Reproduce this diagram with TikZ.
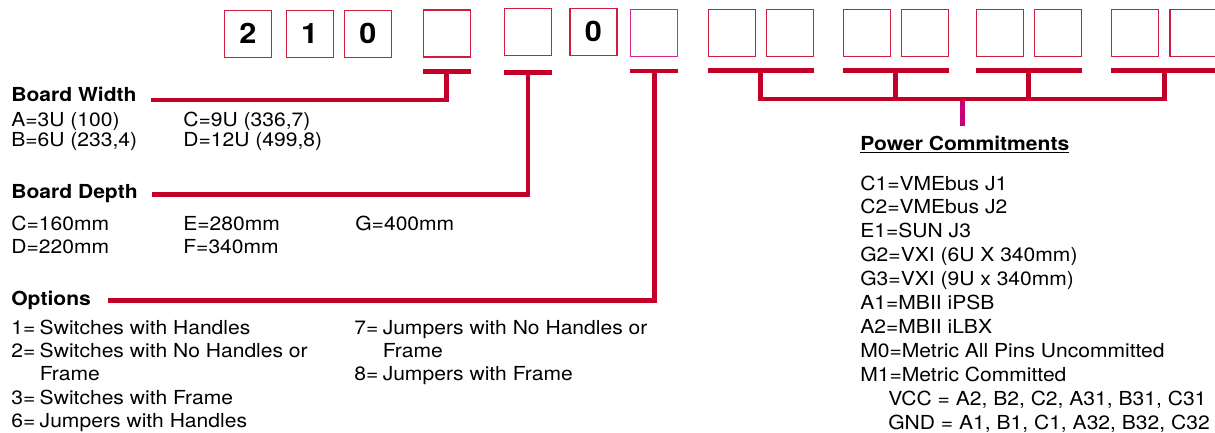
\documentclass[tikz,border=0pt]{standalone}
\usepackage{fontspec}
\setmainfont{TeX Gyre Heros}[FakeStretch=1.09]
\definecolor{leadred}{RGB}{196, 0, 40}
\definecolor{cellred}{RGB}{205, 30, 60}
\definecolor{cellpink}{RGB}{212, 40, 140}
\definecolor{powermagenta}{RGB}{200, 0, 120}
\usetikzlibrary{calc}
\tikzset{
    codebox/.style={rectangle, draw=cellred, line width=0.6pt, minimum size=0.94cm,
                    inner sep=0pt, font=\fontsize{16}{18}\selectfont\bfseries},
    headlabel/.style={anchor=base west, inner sep=0pt, font=\fontsize{11}{13}\selectfont\bfseries},
    listlabel/.style={anchor=base west, inner sep=0pt, font=\fontsize{11}{13.3}\selectfont},
    barline/.style={line width=2.7pt, leadred},
    leadline/.style={line width=2.7pt, leadred},
    powerline/.style={line width=2.8pt, powermagenta},
}

\begin{document}
\begin{tikzpicture}[x=0.02cm, y=-0.02cm]
    \useasboundingbox (0,0) rectangle (1215,433);

    % part number cells
    \node[codebox] (cell1) at (248,33.7) {2};
    \node[codebox] (cell2) at (309.7,33.7) {1};
    \node[codebox] (cell3) at (368,33.7) {0};
    \node[codebox] (cell4) at (446.7,33.5) {};
    \node[codebox] (cell5) at (528,32) {};
    \node[codebox] (cell6) at (593.5,31.7) {0};
    \node[codebox, draw=cellpink] (cell7) at (654.3,33) {};
    \node[codebox] (cell8) at (731.7,33) {};
    \node[codebox] (cell9) at (789.7,33) {};
    \node[codebox] (cell10) at (866.7,33) {};
    \node[codebox] (cell11) at (925,33) {};
    \node[codebox] (cell12) at (999.7,33) {};
    \node[codebox] (cell13) at (1057.8,33) {};
    \node[codebox] (cell14) at (1135,33) {};
    \node[codebox] (cell15) at (1193.5,33) {};

    % headings
    \node[headlabel] (widthhead) at (11,101.7) {Board Width};
    \node[headlabel] (depthhead) at (11,198.3) {Board Depth};
    \node[headlabel] (opthead) at (11,305) {Options};
    \node[headlabel] (powerhead) at (860,150) {\underline{Power Commitments}};

    % value lists
    \node[listlabel, font=\fontsize{11}{11.1}\selectfont] (widthA) at (11,126.7)
        {\begin{tabular}[t]{@{}l@{}}A=3U (100)\\B=6U (233,4)\end{tabular}};
    \node[listlabel, font=\fontsize{11}{11.1}\selectfont] (widthB) at (183,126.7)
        {\begin{tabular}[t]{@{}l@{}}C=9U (336,7)\\D=12U (499,8)\end{tabular}};
    \node[listlabel, font=\fontsize{11}{12.9}\selectfont] (depthA) at (11,230.7)
        {\begin{tabular}[t]{@{}l@{}}C=160mm\\D=220mm\end{tabular}};
    \node[listlabel, font=\fontsize{11}{12.9}\selectfont] (depthB) at (183,230.7)
        {\begin{tabular}[t]{@{}l@{}}E=280mm\\F=340mm\end{tabular}};
    \node[listlabel] (depthC) at (355,230.7) {G=400mm};
    \node[listlabel] (optA) at (11,334)
        {\begin{tabular}[t]{@{}l@{\hspace{2.5pt}}l@{}}
            1= & Switches with Handles\\
            2= & Switches with No Handles or\\
               & Frame\\
            3= & Switches with Frame\\
            6= & Jumpers with Handles
        \end{tabular}};
    \node[listlabel] (optB) at (354,334)
        {\begin{tabular}[t]{@{}l@{\hspace{2.5pt}}l@{}}
            7= & Jumpers with No Handles or\\
               & Frame\\
            8= & Jumpers with Frame
        \end{tabular}};
    \node[listlabel, font=\fontsize{11}{13.65}\selectfont] (powerlist) at (860,190)
        {\begin{tabular}[t]{@{}l@{}}
            C1=VMEbus J1\\
            C2=VMEbus J2\\
            E1=SUN J3\\
            G2=VXI (6U X 340mm)\\
            G3=VXI (9U x 340mm)\\
            A1=MBII iPSB\\
            A2=MBII iLBX\\
            M0=Metric All Pins Uncommitted\\
            M1=Metric Committed\\
            \hspace*{15.9pt}VCC = A2, B2, C2, A31, B31, C31\\
            \hspace*{15.9pt}GND = A1, B1, C1, A32, B32, C32
        \end{tabular}};

    % leads to the headings
    \coordinate (widthbar) at ($(cell4.south)+(0,14.3)$);
    \coordinate (depthbar) at ($(cell5.south)+(0,16.3)$);
    \coordinate (optbar) at ($(cell7.south)+(0,14)$);
    \draw[barline] (cell4.south west |- widthbar) -- (cell4.south east |- widthbar);
    \draw[barline] (cell5.south west |- depthbar) -- (cell5.south east |- depthbar);
    \draw[barline] (cell7.south west |- optbar) -- (cell7.south east |- optbar);
    \draw[leadline] (widthbar) |- ($(widthhead.base east)+(14,-1.7)$);
    \draw[leadline] (depthbar) |- ($(depthhead.base east)+(14,-3.6)$);
    \draw[leadline] (optbar) |- ($(opthead.base east)+(17,-4.7)$);

    % power commitment pairs
    \coordinate (powerbar) at ($(cell8.south)+(0,13.7)$);
    \coordinate (bus) at (0,99);
    \coordinate (pair1) at ($(cell8.east)!0.5!(cell9.west)$);
    \coordinate (pair2) at ($(cell10.east)!0.5!(cell11.west)$);
    \coordinate (pair3) at ($(cell12.east)!0.5!(cell13.west)$);
    \coordinate (pair4) at ($(cell14.east)!0.5!(cell15.west)$);
    \coordinate (powertap) at ($(pair1 |- bus)!0.5!(pair4 |- bus)$);
    \draw[barline] (cell8.south west |- powerbar) -- (cell9.south east |- powerbar);
    \draw[barline] (cell10.south west |- powerbar) -- (cell11.south east |- powerbar);
    \draw[barline] (cell12.south west |- powerbar) -- (cell13.south east |- powerbar);
    \draw[barline] (cell14.south west |- powerbar) -- (cell15.south east |- powerbar);
    \draw[powerline, shorten >=5pt] (powertap) -- (powertap |- powerhead.north);
    \draw[leadline] (pair1 |- powerbar) -- (pair1 |- bus) -- (pair4 |- bus) -- (pair4 |- powerbar);
    \draw[leadline] (pair2 |- powerbar) -- (pair2 |- bus);
    \draw[leadline] (pair3 |- powerbar) -- (pair3 |- bus);
\end{tikzpicture}
\end{document}
